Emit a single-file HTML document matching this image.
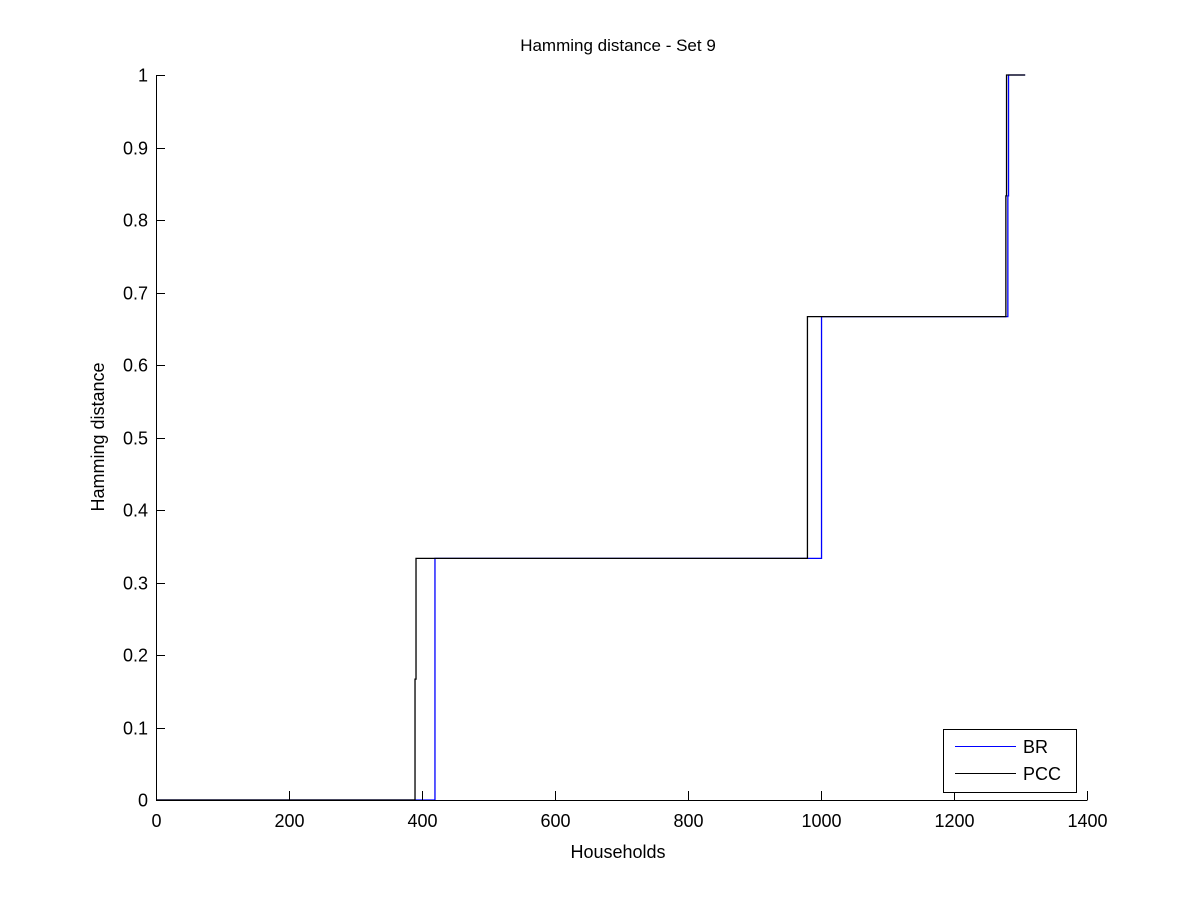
<!DOCTYPE html>
<html><head><meta charset="utf-8"><style>
body{margin:0;background:#fff}
svg text{font-family:"Liberation Sans",Arial,sans-serif;font-size:18px;fill:#000}
</style></head><body>
<svg id="chart" width="1201" height="900">
<rect x="0" y="0" width="1201" height="900" fill="#fff"/>
<g id="plot"></g>
<text x="618" y="51" text-anchor="middle" style="font-size:17px">Hamming distance - Set 9</text>
<text x="618" y="858" text-anchor="middle">Households</text>
<text transform="translate(104,437) rotate(-90)" text-anchor="middle">Hamming distance</text>
<g>
<rect x="943.5" y="729.5" width="133" height="63" fill="#fff" stroke="#000" stroke-width="1"/>
<line x1="955" y1="746.5" x2="1016" y2="746.5" stroke="#00f"/>
<text x="1023" y="753">BR</text>
<line x1="955" y1="773.5" x2="1016" y2="773.5" stroke="#000"/>
<text x="1023" y="780">PCC</text>
</g>
</svg>
<script>
const xTicks=[0,200,400,600,800,1000,1200,1400];
const yTicks=[0,0.1,0.2,0.3,0.4,0.5,0.6,0.7,0.8,0.9,1];
const yTickLabels=["0","0.1","0.2","0.3","0.4","0.5","0.6","0.7","0.8","0.9","1"];
const brX=[0,419.5,1000.8,1281,1282,1307];
const brY=[0,0.3333,0.6667,0.8333,1,1];
const pccX=[0,389.5,391,979.6,1278,1279,1307];
const pccY=[0,0.1667,0.3333,0.6667,0.8333,1,1];
const X0=156,X1=1087,Y0=800,Y1=75;
const sx=v=>X0+(v-0)/(1400-0)*(X1-X0);
const sy=v=>Y0-(v-0)/(1-0)*(Y0-Y1);
const NS="http://www.w3.org/2000/svg";
const g=document.getElementById('plot');
function mk(t,a){const e=document.createElementNS(NS,t);for(const k in a)e.setAttribute(k,a[k]);g.appendChild(e);return e;}
function stepPath(xs,ys){let d="M"+sx(xs[0])+","+sy(ys[0]);for(let i=1;i<xs.length;i++){d+=" H"+sx(xs[i])+" V"+sy(ys[i]);}return d;}
const br=mk('path',{d:stepPath(brX,brY),fill:'none',stroke:'#00f','stroke-width':1.3});


const pcc=mk('path',{d:stepPath(pccX,pccY),fill:'none',stroke:'#000','stroke-width':1.3});


const xa=mk('line',{x1:X0,y1:Y0+0.5,x2:X1+0.5,y2:Y0+0.5,stroke:'#000'});


const ya=mk('line',{x1:X0+0.5,y1:Y1,x2:X0+0.5,y2:Y0+0.5,stroke:'#000'});


xTicks.forEach(v=>{const x=Math.round(sx(v))+0.5;
mk('line',{x1:x,y1:Y0,x2:x,y2:Y0-9,stroke:'#000'});
const t=mk('text',{x:x,y:Y0+27,'text-anchor':'middle'});t.textContent=v;

});
yTicks.forEach((v,i)=>{const y=Math.round(sy(v))+0.5;
mk('line',{x1:X0,y1:y,x2:X0+9,y2:y,stroke:'#000'});
const t=mk('text',{x:X0-8,y:y+6,'text-anchor':'end'});t.textContent=yTickLabels[i];

});
</script>
</body></html>
